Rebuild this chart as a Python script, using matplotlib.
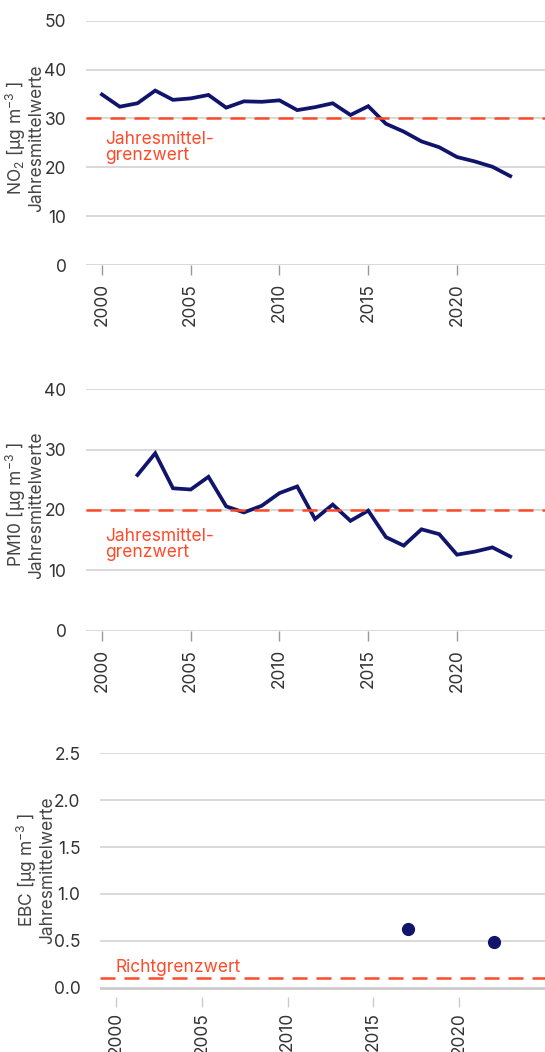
import numpy as np
import matplotlib
matplotlib.use("Agg")
import matplotlib.pyplot as plt

plt.rcParams['font.family'] = ['Inter', 'DejaVu Sans']
plt.rcParams['mathtext.fontset'] = 'custom'
plt.rcParams['mathtext.rm'] = 'Inter'
plt.rcParams['mathtext.it'] = 'Inter'

# annual means
years_no2 = list(range(2000, 2024))
no2 = [34.9, 32.4, 33.1, 35.7, 33.8, 34.1, 34.8, 32.2, 33.5, 33.4, 33.7, 31.7,
       32.3, 33.1, 30.7, 32.5, 28.9, 27.3, 25.3, 24.1, 22.1, 21.2, 20.1, 18.2]

years_pm10 = list(range(2002, 2024))
pm10 = [25.8, 29.4, 23.6, 23.4, 25.5, 20.6, 19.6, 20.7, 22.8, 23.9, 18.5,
        20.9, 18.2, 19.9, 15.5, 14.1, 16.8, 16.0, 12.6, 13.1, 13.8, 12.3]

years_ebc = [2017, 2022]
ebc = [0.63, 0.49]

limit_no2 = 30
limit_pm10 = 20
limit_ebc = 0.1

xticks = [2000, 2005, 2010, 2015, 2020]

navy = '#10156b'
red = '#ff4a2a'
grid = '#d0d0d0'
txt = '#333333'

fig = plt.figure(figsize=(5.45, 10.52), dpi=100)
W, H = 545.0, 1052.0


def make_ax(left, right, top, bottom):
    return fig.add_axes([left / W, 1 - bottom / H, (right - left) / W, (bottom - top) / H])


def style(ax, yticks, ylabel, left, label_x=45):
    for s in ax.spines.values():
        s.set_visible(False)
    ax.set_yticks(yticks)
    ax.yaxis.grid(True, color=grid, lw=1.1)
    ax.set_axisbelow(True)
    ax.tick_params(axis='y', length=0, pad=14, labelsize=12.5, labelcolor=txt)
    ax.set_xticks(xticks)
    ax.set_xticklabels([str(x) for x in xticks], rotation=90)
    ax.tick_params(axis='x', length=7, width=1, color='#999999', pad=6,
                   labelsize=12.5, labelcolor=txt)
    ax.set_ylabel(ylabel, fontsize=12.5, color='#444444', linespacing=1.0)
    ax.yaxis.set_label_coords((label_x - left) / (W - left), 0.52)


# NO2
ax1 = make_ax(86, 545, 20.7, 265)
ax1.plot(years_no2, no2, color=navy, lw=2.7, solid_joinstyle='miter')
ax1.axhline(limit_no2, color=red, lw=1.8, dashes=(6, 3.6))
ax1.text(2000.2, 27.4, 'Jahresmittel-\ngrenzwert', color=red, fontsize=12.5,
         va='top', ha='left', linespacing=0.9)
ax1.set_xlim(1999.1, 2024.96)
ax1.set_ylim(0, 50)
style(ax1, [0, 10, 20, 30, 40, 50], 'NO$_2$ [µg m$^{-3}$ ]\nJahresmittelwerte', 86)

# PM10
ax2 = make_ax(86, 545, 389.3, 630.7)
ax2.plot(years_pm10, pm10, color=navy, lw=2.7, solid_joinstyle='miter')
ax2.axhline(limit_pm10, color=red, lw=1.8, dashes=(6, 3.6))
ax2.text(2000.2, 17.0, 'Jahresmittel-\ngrenzwert', color=red, fontsize=12.5,
         va='top', ha='left', linespacing=0.9)
ax2.set_xlim(1999.1, 2024.96)
ax2.set_ylim(0, 40)
style(ax2, [0, 10, 20, 30, 40], 'PM10 [µg m$^{-3}$ ]\nJahresmittelwerte', 86)

# EBC
ax3 = make_ax(100, 545, 753.3, 996.7)
ax3.plot(years_ebc, ebc, 'o', color=navy, ms=8.5)
ax3.axhline(limit_ebc, color=red, lw=1.8, dashes=(6, 3.6))
ax3.axhline(0, color='#c8c8c8', lw=2, zorder=0.5)
ax3.text(1999.95, 0.125, 'Richtgrenzwert', color=red, fontsize=12.5,
         va='bottom', ha='left')
ax3.set_xlim(1999.07, 2025.0)
ax3.set_ylim(-0.096, 2.5)
style(ax3, [0.0, 0.5, 1.0, 1.5, 2.0, 2.5], 'EBC [µg m$^{-3}$ ]\nJahresmittelwerte', 100,
      label_x=56)
ax3.set_yticklabels(['0.0', '0.5', '1.0', '1.5', '2.0', '2.5'])
ax3.tick_params(axis='x', color='#cccccc', pad=4)

fig.savefig('out.png', dpi=100)
